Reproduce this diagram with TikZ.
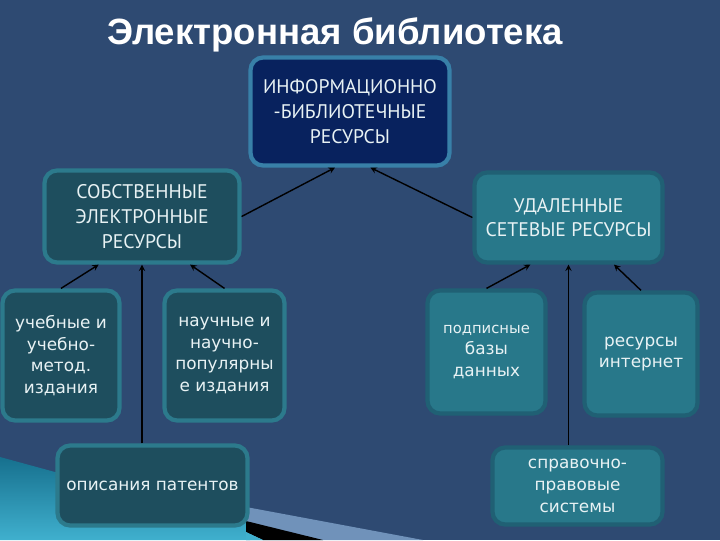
\documentclass[tikz,border=0pt]{standalone}
\usepackage{fontspec}
\setmainfont{PT Sans}
\newfontfamily\titlefont{Liberation Sans}
\newfontfamily\lowfont{DejaVu Sans}

\definecolor{bgblue}{RGB}{46,74,114}
\definecolor{navyfill}{RGB}{8,34,94}
\definecolor{navyrim}{RGB}{56,128,168}
\definecolor{ownfill}{RGB}{30,78,94}
\definecolor{ownrim}{RGB}{44,122,140}
\definecolor{netfill}{RGB}{40,120,138}
\definecolor{netrim}{RGB}{32,96,116}
\definecolor{boxtext}{RGB}{232,242,244}
\definecolor{wedgelight}{RGB}{112,146,186}
\definecolor{wedgedark}{RGB}{22,112,142}
\definecolor{wedgebright}{RGB}{64,176,206}

\newlength\px
\setlength\px{0.025cm}

\begin{document}
\begin{tikzpicture}[x=0.025cm,y=-0.025cm,inner sep=2pt,
box/.style={rectangle,rounded corners=9pt,line width=3pt,outer sep=1.5pt,align=center,text=boxtext},
capsbox/.style={box,font=\fontsize{14}{17.5}\selectfont},
lowbox/.style={box,font=\lowfont\fontsize{12}{15.5}\selectfont},
topbox/.style={draw=navyrim,fill=navyfill},
ownbox/.style={draw=ownrim,fill=ownfill},
netbox/.style={draw=netrim,fill=netfill},
link/.style={->,>=stealth,line width=1pt,black}]

\useasboundingbox (0,0) rectangle (720,540);
\fill[bgblue] (0,0) rectangle (720,540);

% corner wedge
\shade[top color=wedgedark,bottom color=wedgebright] (0,457) -- (55,472) -- (250,512) -- (250,540) -- (0,540) -- cycle;
\fill[wedgelight] (246,507) -- (423,540) -- (246,540) -- cycle;
\fill[black] (246,521) -- (323,540) -- (263,540) -- (246,532) -- cycle;
\fill[wedgebright] (246,532) -- (263,540) -- (246,540) -- cycle;

\draw (335,35) node[font=\titlefont\bfseries\fontsize{26}{30}\selectfont,text=white] (title) {Электронная библиотека};

\draw (350,111.5) node[capsbox,topbox,minimum width=199\px,minimum height=108\px] (res) {ИНФОРМАЦИОННО\\-БИБЛИОТЕЧНЫЕ\\РЕСУРСЫ};
\draw (142,216.5) node[capsbox,ownbox,minimum width=195\px,minimum height=92\px] (own) {СОБСТВЕННЫЕ\\ЭЛЕКТРОННЫЕ\\РЕСУРСЫ};
\draw (568.5,217.5) node[capsbox,netbox,minimum width=188\px,minimum height=90\px] (net) {УДАЛЕННЫЕ\\СЕТЕВЫЕ РЕСУРСЫ};

\draw (61,355.5) node[lowbox,ownbox,minimum width=117\px,minimum height=130\px] (ucheb) {учебные и\\учебно-\\метод.\\издания};
\draw (224.5,355.5) node[lowbox,ownbox,minimum width=120\px,minimum height=130\px] (nauch) {научные и\\научно-\\популярны\\е издания};
\draw (152.5,485.5) node[lowbox,ownbox,minimum width=190\px,minimum height=80\px] (patent) {описания патентов};

\draw (486.5,352) node[lowbox,netbox,minimum width=118\px,minimum height=123\px] (podp) {{\fontsize{10.5}{14}\selectfont подписные}\\базы\\данных};
\draw (641,354) node[lowbox,netbox,minimum width=113\px,minimum height=123\px] (inet) {ресурсы\\интернет};
\draw (577.5,486) node[lowbox,netbox,minimum width=170\px,minimum height=77\px] (sprav) {справочно-\\правовые\\системы};

\draw[link] (own.east) -- (res.255);
\draw[link] (net.west) -- (res.290);
\draw[link] (ucheb.north) -- (own.228);
\draw[link] (nauch.north) -- (own.315);
\draw[link] (patent.north -| own.south) -- (own.south);
\draw[link] (podp.north) -- (net.231);
\draw[link] (inet.north) -- (net.314);
\draw[link] (sprav.north -| net.south) -- (net.south);
\end{tikzpicture}
\end{document}
